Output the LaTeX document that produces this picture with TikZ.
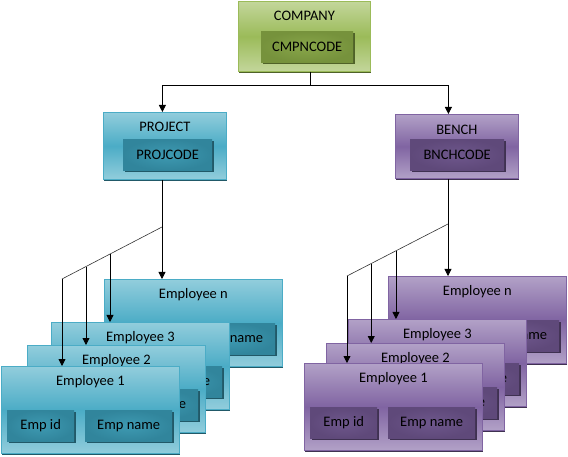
\documentclass[tikz,border=0pt]{standalone}
\usepackage{fontspec}
\setmainfont{Carlito}
\usetikzlibrary{arrows.meta,calc,shadows}

\definecolor{glight}{HTML}{C3D69B}
\definecolor{gmid}{HTML}{9BBB59}
\definecolor{gborder}{HTML}{9BBB59}
\definecolor{ginner}{HTML}{76923C}
\definecolor{gglow}{HTML}{88A64A}
\definecolor{gshadow}{HTML}{4F6228}
\definecolor{blight}{HTML}{92CDDC}
\definecolor{bmid}{HTML}{4BACC6}
\definecolor{bborder}{HTML}{4BACC6}
\definecolor{binner}{HTML}{31859C}
\definecolor{bglow}{HTML}{3E9AB2}
\definecolor{bshadow}{HTML}{215968}
\definecolor{plight}{HTML}{B2A1C7}
\definecolor{pmid}{HTML}{8064A2}
\definecolor{pborder}{HTML}{8064A2}
\definecolor{pinner}{HTML}{5F497A}
\definecolor{pglow}{HTML}{6E578C}
\definecolor{pshadow}{HTML}{3F3151}

\tikzset{
  box/.style={draw, line width=0.8pt, inner sep=0pt},
  card/.style={box, minimum width=178pt, minimum height=87pt},
  greenbox/.style={box, draw=gborder, top color=glight, bottom color=glight, middle color=gmid,
    drop shadow={shadow xshift=1pt, shadow yshift=-2pt, fill=gshadow, opacity=1}},
  bluebox/.style={box, draw=bborder, top color=blight, bottom color=blight, middle color=bmid,
    drop shadow={shadow xshift=1pt, shadow yshift=-2pt, fill=bshadow, opacity=1}},
  purplebox/.style={box, draw=pborder, top color=plight, bottom color=plight, middle color=pmid,
    drop shadow={shadow xshift=1pt, shadow yshift=-2pt, fill=pshadow, opacity=1}},
  inner/.style={inner sep=0pt, minimum height=31pt},
  greeninner/.style={inner, inner color=gglow, outer color=ginner,
    drop shadow={shadow xshift=1.5pt, shadow yshift=-1.5pt, fill=gshadow, opacity=1}},
  blueinner/.style={inner, inner color=bglow, outer color=binner,
    drop shadow={shadow xshift=1.5pt, shadow yshift=-1.5pt, fill=bshadow, opacity=1}},
  purpleinner/.style={inner, inner color=pglow, outer color=pinner,
    drop shadow={shadow xshift=1.5pt, shadow yshift=-1.5pt, fill=pshadow, opacity=1}},
  link/.style={line width=0.8pt},
  slant/.style={line width=0.6pt, black!80},
  arr/.style={link, -{Triangle[width=7pt,length=7pt]}}
}

% one employee card: name, top left corner, title, card style, inner style
\newcommand{\empcard}[5]{%
  \node[card, #4, anchor=north west] (#1) at (#2) {};
  \node (#1t) at ([yshift=-16pt]#1.north) {#3};
  \node[#5, minimum width=67pt, anchor=north west] (#1id)
    at ([shift={(6pt,-44pt)}]#1.north west) {Emp id};
  \node[#5, minimum width=87pt, anchor=north west] (#1nm)
    at ([shift={(84pt,-44pt)}]#1.north west) {Emp name};
}

\begin{document}
\begin{tikzpicture}[x=1pt, y=-1pt, font=\fontsize{14.5}{16}\selectfont]
\useasboundingbox (0,0) rectangle (568,457);

% top level
\node[greenbox, minimum width=132pt, minimum height=70pt, anchor=north west] (company) at (238,1) {};
\node (companyt) at ([yshift=-15pt]company.north) {COMPANY};
\node[greeninner, minimum width=92pt, anchor=north west] (cmpncode)
  at ([shift={(23pt,-30pt)}]company.north west) {CMPNCODE};

\node[bluebox, minimum width=123pt, minimum height=67pt, anchor=north west] (project) at (103,112) {};
\node (projectt) at ([yshift=-15pt]project.north) {PROJECT};
\node[blueinner, minimum width=89pt, anchor=north west] (projcode)
  at ([shift={(20pt,-27pt)}]project.north west) {PROJCODE};

\node[purplebox, minimum width=123pt, minimum height=64pt, anchor=north west] (bench) at (395,114) {};
\node (bencht) at ([yshift=-16pt]bench.north) {BENCH};
\node[purpleinner, minimum width=94pt, anchor=north west] (bnchcode)
  at ([shift={(15pt,-25pt)}]bench.north west) {BNCHCODE};

% employee stacks, back to front
\empcard{pemn}{104,279}{Employee n}{bluebox}{blueinner}
\empcard{pem3}{51,322}{Employee 3}{bluebox}{blueinner}
\empcard{pem2}{27,345}{Employee 2}{bluebox}{blueinner}
\empcard{pem1}{1,366}{Employee 1}{bluebox}{blueinner}

\empcard{bemn}{388,276}{Employee n}{purplebox}{purpleinner}
\empcard{bem3}{348,319}{Employee 3}{purplebox}{purpleinner}
\empcard{bem2}{326,343}{Employee 2}{purplebox}{purpleinner}
\empcard{bem1}{304,363}{Employee 1}{purplebox}{purpleinner}

% company links
\coordinate (cj) at (310,85);
\draw[link] (company.south -| cj) -- (cj);
\draw[arr] (cj) -| ([xshift=-2.5pt]project.north);
\draw[arr] (cj) -| ([xshift=-8.5pt]bench.north);

% project links
\coordinate (pj) at (162,227);
\coordinate (pe) at (62,279);
\coordinate (p3) at ($(pj)!0.52!(pe)$);
\coordinate (p2) at ($(pj)!0.76!(pe)$);
\draw[link] (project.south -| pj) -- (pj);
\draw[slant] (pj) -- (pe);
\draw[arr] (pj) -- (pj |- pemn.north);
\draw[arr] (p3) -- (p3 |- pem3.north);
\draw[arr] (p2) -- (p2 |- pem2.north);
\draw[arr] (pe) -- (pe |- pem1.north);

% bench links
\coordinate (bj) at (448,224);
\coordinate (be) at (347,276);
\coordinate (b3) at ($(bj)!0.515!(be)$);
\coordinate (b2) at ($(bj)!0.76!(be)$);
\draw[link] (bench.south -| bj) -- (bj);
\draw[slant] (bj) -- (be);
\draw[arr] (bj) -- (bj |- bemn.north);
\draw[arr] (b3) -- (b3 |- bem3.north);
\draw[arr] (b2) -- (b2 |- bem2.north);
\draw[arr] (be) -- (be |- bem1.north);

\end{tikzpicture}
\end{document}
